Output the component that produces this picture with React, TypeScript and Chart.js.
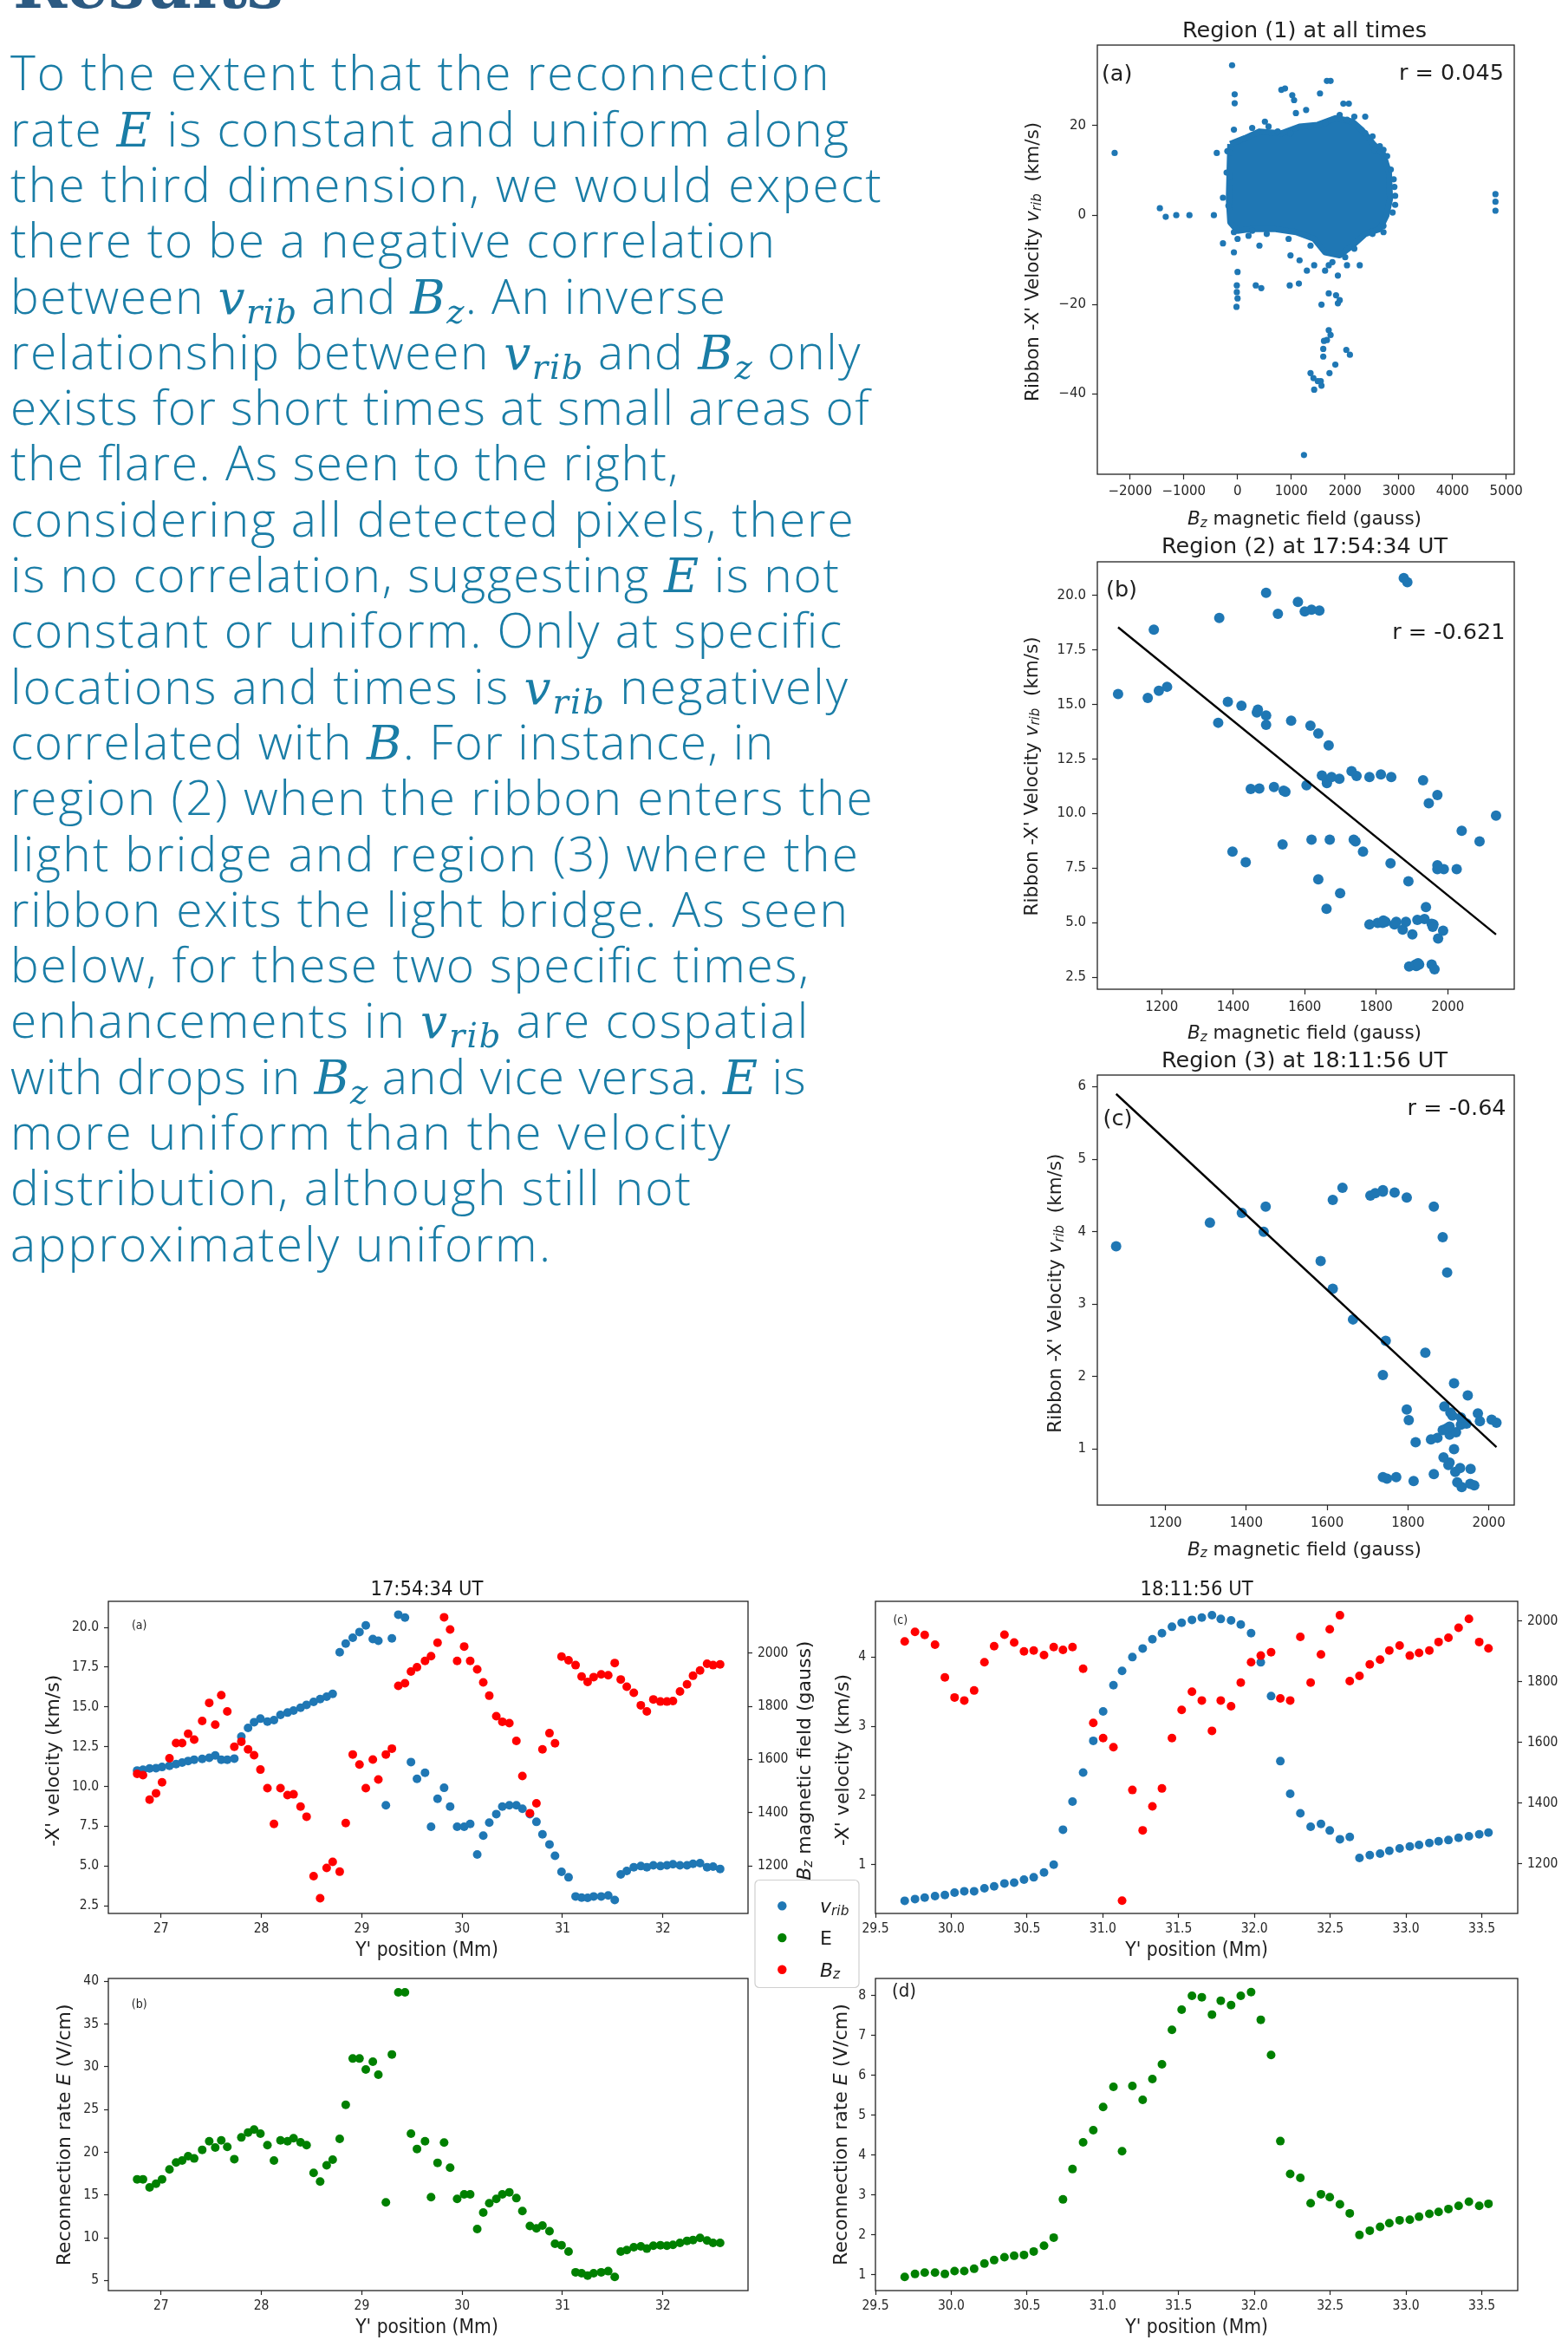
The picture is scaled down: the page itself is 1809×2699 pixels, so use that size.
import React, { useEffect, useRef } from "react";
import { Chart, registerables } from "chart.js";
Chart.register(...registerables);

// ---------------- DATA ----------------
// Region (1), all times: outline of the dense core of the cloud (Bz gauss, v km/s)
const region1CoreBz = [-136, 136, 407, 815, 1154, 1494, 1833, 2139, 2308, 2512, 2716, 2818, 2838, 2770, 2648, 2376, 2139, 1901, 1629, 1426, 1086, 679, 272, 0, -136, -163, -136];
const region1CoreV = [15.9, 17.2, 18.7, 18.3, 19.8, 20.2, 21.7, 20.9, 19.1, 16.1, 13.5, 9.5, 3.6, -0.1, -3.1, -4.2, -6.8, -9.0, -8.3, -5.3, -3.8, -3.1, -3.1, -3.5, -1.6, 3.6, 15.9];
// Region (1): individual points outside / on the edge of the core
const region1Bz = [-102, -54, -54, -2288, -1446, -1337, -1141, -896, -441, -387, -190, -272, -272, 0, -14, -14, 0, -20, -136, 0, -68, 272, 407, 339, 441, 971, 1141, 815, 883, 1018, 1052, 1086, 1276, 1534, 1663, 1731, 1969, 2071, 2173, 2376, 2546, 2716, 2906, 2919, 2933, 2933, 2716, 2512, 2173, 2274, 2037, 1867, 1697, 1629, 1290, 1426, 1154, 985, 1562, 1697, 1833, 1901, 1867, 1697, 1731, 1609, 1663, 1595, 1595, 1711, 1820, 2024, 2091, 1358, 1412, 1494, 1562, 1426, 1548, 1236, 4800, 4800, 4800,
  -68, 272, 509, 577, 747, 985, 1358, 1629, 1901, 2037, 2376, 2512, 2648, 2784, 2852, 2886, 2716, -136, -204, -170, -68, 204, 543, 950, 1358, 1765, 2003];
const region1V = [33.5, 27.0, 25.0, 13.9, 1.55, -0.37, 0, 0, 0, 13.9, 14.3, 3.9, -6.3, -12.7, -15.7, -17.2, -18.6, -20.5, 7.2, -5.3, -8.3, -3.5, -6.8, -15.7, -16.3, -15.7, -15.3, 28.0, 28.3, 26.8, 25.7, 22.8, 23.5, 27.2, 30.0, 30.0, 24.9, 24.9, 22.0, 22.0, 14.6, 14.6, 8.0, 6.3, 4.3, 2.3, -3.8, -4.2, -7.5, -11.2, -11.2, -13.5, -11.2, -12.4, -12.4, -11.2, -10.1, -9.0, -20.0, -17.5, -17.9, -19.0, -19.7, -25.7, -26.8, -28.1, -27.9, -29.9, -31.6, -35.3, -33.4, -30.1, -31.2, -35.3, -36.4, -37.1, -38.1, -39.0, -37.1, -53.6, 4.7, 3.0, 1.0,
  19.1, 19.5, 20.9, 19.8, 18.7, 18.3, 19.8, 20.6, 22.4, 21.3, 18.3, 17.6, 15.4, 13.2, 10.2, 0.6, -2.4, 13.9, 9.5, 2.1, -3.8, -4.6, -4.2, -5.3, -6.8, -10.5, -9.4];

// 17:54:34 UT (region 2): Y' position (Mm), v_rib (km/s), Bz (G), E (V/cm)
const posA = [26.762, 26.82, 26.886, 26.95, 27.01, 27.084, 27.15, 27.21, 27.27, 27.33, 27.41, 27.48, 27.54, 27.60, 27.66, 27.73, 27.80, 27.867, 27.927, 27.99, 28.06, 28.125, 28.19, 28.26, 28.32, 28.39, 28.45, 28.52, 28.585, 28.65, 28.71, 28.78, 28.84, 28.91, 28.977, 29.04, 29.11, 29.165, 29.24, 29.30, 29.364, 29.43, 29.49, 29.55, 29.63, 29.69, 29.755, 29.82, 29.88, 29.95, 30.02, 30.08, 30.15, 30.21, 30.27, 30.34, 30.40, 30.47, 30.54, 30.60, 30.675, 30.74, 30.80, 30.87, 30.925, 30.99, 31.06, 31.13, 31.19, 31.25, 31.31, 31.385, 31.455, 31.52, 31.58, 31.64, 31.71, 31.78, 31.84, 31.905, 31.975, 32.04, 32.10, 32.17, 32.24, 32.30, 32.37, 32.44, 32.50, 32.57];
const vribA = [11.0, 11.05, 11.13, 11.15, 11.22, 11.3, 11.4, 11.5, 11.6, 11.68, 11.73, 11.8, 11.95, 11.68, 11.68, 11.75, 13.13, 13.68, 14.04, 14.26, 14.08, 14.17, 14.5, 14.64, 14.77, 14.95, 15.13, 15.31, 15.49, 15.64, 15.82, 18.44, 18.98, 19.35, 19.71, 20.13, 19.27, 19.16, 8.81, 19.31, 20.8, 20.62, 11.53, 10.48, 10.86, 7.46, 9.22, 9.91, 8.73, 7.46, 7.46, 7.64, 5.72, 6.9, 7.72, 8.26, 8.73, 8.81, 8.81, 8.59, 8.26, 7.77, 6.99, 6.35, 5.64, 4.63, 4.28, 3.08, 3.01, 2.99, 3.08, 3.08, 3.14, 2.86, 4.46, 4.68, 4.92, 4.99, 4.92, 5.04, 4.99, 5.04, 5.1, 5.04, 5.04, 5.13, 5.17, 4.92, 4.95, 4.81];
const bzA = [1546, 1541, 1449, 1473, 1514, 1605, 1662, 1662, 1697, 1675, 1745, 1813, 1731, 1842, 1781, 1648, 1667, 1638, 1616, 1562, 1492, 1358, 1492, 1466, 1469, 1423, 1385, 1161, 1078, 1192, 1215, 1178, 1361, 1619, 1581, 1492, 1600, 1525, 1619, 1641, 1877, 1887, 1931, 1947, 1971, 1989, 2039, 2135, 2089, 1971, 2025, 1971, 1939, 1890, 1840, 1763, 1742, 1737, 1670, 1538, 1398, 1435, 1638, 1699, 1661, 1987, 1973, 1955, 1912, 1892, 1910, 1920, 1917, 1963, 1901, 1874, 1851, 1804, 1781, 1826, 1818, 1818, 1820, 1856, 1883, 1915, 1935, 1960, 1955, 1958];
const eA = [16.84, 16.84, 15.9, 16.33, 16.84, 18.0, 18.8, 19.04, 19.55, 19.28, 20.29, 21.3, 20.56, 21.4, 20.63, 19.2, 21.74, 22.32, 22.66, 22.18, 20.83, 19.04, 21.4, 21.3, 21.64, 21.17, 20.83, 17.59, 16.57, 18.47, 19.14, 21.57, 25.56, 30.97, 30.97, 29.69, 30.6, 29.08, 14.14, 31.45, 38.72, 38.72, 22.18, 20.39, 21.3, 14.75, 18.77, 21.14, 18.2, 14.54, 15.08, 15.08, 11.03, 12.95, 14.04, 14.54, 15.08, 15.32, 14.64, 13.12, 11.37, 11.1, 11.43, 10.76, 9.3, 9.13, 8.39, 5.96, 5.85, 5.58, 5.85, 5.96, 6.09, 5.42, 8.39, 8.56, 8.9, 9.0, 8.73, 9.07, 9.13, 9.07, 9.17, 9.4, 9.64, 9.74, 9.98, 9.67, 9.4, 9.4];

// 18:11:56 UT (region 3)
const posC = [29.693, 29.761, 29.825, 29.893, 29.958, 30.022, 30.086, 30.151, 30.219, 30.283, 30.351, 30.415, 30.48, 30.544, 30.612, 30.676, 30.737, 30.80, 30.87, 30.937, 31.002, 31.07, 31.127, 31.195, 31.263, 31.327, 31.39, 31.456, 31.52, 31.588, 31.653, 31.72, 31.778, 31.846, 31.91, 31.978, 32.042, 32.11, 32.171, 32.236, 32.303, 32.371, 32.439, 32.497, 32.564, 32.629, 32.693, 32.761, 32.829, 32.89, 32.958, 33.025, 33.086, 33.154, 33.215, 33.28, 33.347, 33.415, 33.483, 33.544];
const vribC = [0.477, 0.502, 0.523, 0.544, 0.561, 0.594, 0.615, 0.615, 0.657, 0.686, 0.728, 0.74, 0.782, 0.816, 0.887, 1.0, 1.505, 1.911, 2.33, 2.79, 3.214, 3.595, 3.80, 4.0, 4.125, 4.259, 4.347, 4.439, 4.497, 4.539, 4.572, 4.606, 4.552, 4.531, 4.472, 4.347, 3.925, 3.436, 2.496, 2.023, 1.743, 1.547, 1.589, 1.493, 1.367, 1.401, 1.096, 1.137, 1.158, 1.2, 1.234, 1.263, 1.284, 1.313, 1.338, 1.355, 1.388, 1.409, 1.438, 1.463];
const bzC = [1933, 1964, 1954, 1922, 1814, 1748, 1738, 1771, 1864, 1917, 1955, 1929, 1900, 1903, 1888, 1914, 1905, 1914, 1843, 1664, 1614, 1584, 1078, 1443, 1310, 1389, 1448, 1614, 1707, 1767, 1738, 1638, 1738, 1719, 1797, 1864, 1886, 1897, 1745, 1738, 1948, 1797, 1890, 1973, 2019, 1802, 1819, 1857, 1873, 1903, 1919, 1886, 1895, 1903, 1931, 1945, 1978, 2007, 1931, 1910];
const eC = [0.944, 1.017, 1.053, 1.053, 1.017, 1.089, 1.089, 1.147, 1.278, 1.365, 1.437, 1.474, 1.495, 1.582, 1.727, 1.93, 2.888, 3.65, 4.323, 4.628, 5.208, 5.716, 4.1, 5.737, 5.389, 5.912, 6.281, 7.144, 7.652, 8.0, 7.964, 7.529, 7.877, 7.768, 8.0, 8.094, 7.398, 6.513, 4.352, 3.526, 3.431, 2.793, 3.018, 2.946, 2.764, 2.539, 1.996, 2.104, 2.199, 2.293, 2.365, 2.38, 2.453, 2.525, 2.576, 2.648, 2.728, 2.83, 2.728, 2.779];

// linear fits drawn in the scatter panels (endpoints)
const fitRegion2Bz = [1078, 2135];
const fitRegion2V = [18.55, 4.46];
const fitRegion3Bz = [1078, 2019];
const fitRegion3V = [5.9, 1.03];

// tick values
const ticksR1Bz = [-2000, -1000, 0, 1000, 2000, 3000, 4000, 5000];
const ticksR1V = [-40, -20, 0, 20];
const ticksR2Bz = [1200, 1400, 1600, 1800, 2000];
const ticksR2V = [2.5, 5, 7.5, 10, 12.5, 15, 17.5, 20];
const ticksR3Bz = [1200, 1400, 1600, 1800, 2000];
const ticksR3V = [1, 2, 3, 4, 5, 6];
const ticksPosA = [27, 28, 29, 30, 31, 32];
const ticksVelA = [2.5, 5, 7.5, 10, 12.5, 15, 17.5, 20];
const ticksBzA = [1200, 1400, 1600, 1800, 2000];
const ticksEA = [5, 10, 15, 20, 25, 30, 35, 40];
const ticksPosC = [29.5, 30, 30.5, 31, 31.5, 32, 32.5, 33, 33.5];
const ticksVelC = [1, 2, 3, 4];
const ticksBzC = [1200, 1400, 1600, 1800, 2000];
const ticksEC = [1, 2, 3, 4, 5, 6, 7, 8];

// ---------------- STYLE ----------------
const BLUE = "#1f77b4";
const RED = "#ff0000";
const GREEN = "#008000";
const INK = "#1e1e1e";
const TEAL = "#1a7da6";
const SANS = "'DejaVu Sans', sans-serif";
const COND = "'DejaVu Sans Condensed', 'DejaVu Sans', sans-serif";
const MATH = "'DejaVu Serif', serif";
const BODY = "'Open Sans', 'Lato', sans-serif";

type AxisSpec = { min: number; max: number; ticks: number[]; digits: number };
type PanelSpec = {
  id: string;
  box: [number, number, number, number];
  x: AxisSpec;
  y: AxisSpec;
  y2?: AxisSpec;
  font: { family: string; size: number };
  tick: number;
  xPad: number;
  yPad: number;
  datasets: any[];
};

const pts = (xs: number[], ys: number[]) => xs.map((x, i) => ({ x, y: ys[i] }));
const dots = (xs: number[], ys: number[], color: string, r: number, extra: any = {}) => ({
  type: "scatter",
  data: pts(xs, ys),
  backgroundColor: color,
  borderColor: color,
  borderWidth: 0,
  pointRadius: r,
  pointHoverRadius: r,
  ...extra,
});
const fitLine = (xs: number[], ys: number[]) => ({
  type: "line",
  data: pts(xs, ys),
  borderColor: "#000",
  borderWidth: 2.4,
  pointRadius: 0,
  fill: false,
  tension: 0,
  order: 0,
});

const PANELS: PanelSpec[] = [
  {
    id: "r1",
    box: [1266, 52, 1747, 547],
    x: { min: -2610, max: 5150, ticks: ticksR1Bz, digits: 0 },
    y: { min: -57.9, max: 38, ticks: ticksR1V, digits: 0 },
    font: { family: SANS, size: 15 },
    tick: 6, xPad: 5, yPad: 7,
    datasets: [
      dots(region1Bz, region1V, BLUE, 3.6, { order: 1 }),
      {
        type: "line",
        data: pts(region1CoreBz, region1CoreV),
        borderColor: BLUE,
        backgroundColor: BLUE,
        borderWidth: 7,
        borderJoinStyle: "round",
        pointRadius: 0,
        tension: 0,
        showLine: true,
        fill: "shape",
        order: 2,
      },
    ],
  },
  {
    id: "r2",
    box: [1266, 648, 1747, 1141],
    x: { min: 1020, max: 2186, ticks: ticksR2Bz, digits: 0 },
    y: { min: 1.95, max: 21.55, ticks: ticksR2V, digits: 1 },
    font: { family: SANS, size: 15 },
    tick: 6, xPad: 6, yPad: 7,
    datasets: [fitLine(fitRegion2Bz, fitRegion2V), dots(bzA, vribA, BLUE, 6, { order: 1 })],
  },
  {
    id: "r3",
    box: [1266, 1240, 1747, 1736],
    x: { min: 1031.5, max: 2063, ticks: ticksR3Bz, digits: 0 },
    y: { min: 0.23, max: 6.16, ticks: ticksR3V, digits: 0 },
    font: { family: SANS, size: 15 },
    tick: 6, xPad: 6, yPad: 7,
    datasets: [fitLine(fitRegion3Bz, fitRegion3V), dots(bzC, vribC, BLUE, 6, { order: 1 })],
  },
  {
    id: "ba",
    box: [125, 1847, 863, 2207],
    x: { min: 26.475, max: 32.848, ticks: ticksPosA, digits: 0 },
    y: { min: 2.01, max: 21.64, ticks: ticksVelA, digits: 1 },
    y2: { min: 1021, max: 2195, ticks: ticksBzA, digits: 0 },
    font: { family: COND, size: 15.5 },
    tick: 5, xPad: 4, yPad: 6,
    datasets: [
      dots(posA, bzA, RED, 5, { yAxisID: "y2", order: 0 }),
      dots(posA, vribA, BLUE, 5, { yAxisID: "y", order: 1 }),
    ],
  },
  {
    id: "bc",
    box: [1010, 1847, 1751, 2207],
    x: { min: 29.5, max: 33.737, ticks: ticksPosC, digits: 1 },
    y: { min: 0.294, max: 4.807, ticks: ticksVelC, digits: 0 },
    y2: { min: 1036, max: 2065, ticks: ticksBzC, digits: 0 },
    font: { family: COND, size: 15.5 },
    tick: 5, xPad: 4, yPad: 6,
    datasets: [
      dots(posC, bzC, RED, 5, { yAxisID: "y2", order: 0 }),
      dots(posC, vribC, BLUE, 5, { yAxisID: "y", order: 1 }),
    ],
  },
  {
    id: "bb",
    box: [125, 2282, 863, 2642],
    x: { min: 26.475, max: 32.848, ticks: ticksPosA, digits: 0 },
    y: { min: 3.82, max: 40.34, ticks: ticksEA, digits: 0 },
    font: { family: COND, size: 15.5 },
    tick: 5, xPad: 4, yPad: 6,
    datasets: [dots(posA, eA, GREEN, 5)],
  },
  {
    id: "bd",
    box: [1010, 2282, 1751, 2642],
    x: { min: 29.5, max: 33.737, ticks: ticksPosC, digits: 1 },
    y: { min: 0.6, max: 8.435, ticks: ticksEC, digits: 0 },
    font: { family: COND, size: 15.5 },
    tick: 5, xPad: 4, yPad: 6,
    datasets: [dots(posC, eC, GREEN, 5)],
  },
];

const fmtTick = (a: AxisSpec) => (v: number) => {
  const s = Math.abs(v).toFixed(a.digits);
  return v < 0 ? "\u2212" + s : s;
};

const framePlugin = {
  id: "frame",
  afterDatasetsDraw(chart: any) {
    const { ctx, chartArea } = chart;
    ctx.save();
    ctx.strokeStyle = "#222";
    ctx.lineWidth = 1.3;
    ctx.strokeRect(chartArea.left, chartArea.top, chartArea.right - chartArea.left, chartArea.bottom - chartArea.top);
    ctx.restore();
  },
};

const PAD = 30;
const LW = 110;
const RW2 = 100;
const BH = 50;

function makeScale(a: AxisSpec, pos: string, size: number, p: PanelSpec, pad: number) {
  const f = fmtTick(a);
  return {
    type: "linear",
    position: pos,
    min: a.min,
    max: a.max,
    bounds: "data",
    afterBuildTicks: (s: any) => {
      s.ticks = a.ticks.map((v) => ({ value: v }));
    },
    afterFit: (s: any) => {
      if (pos === "bottom") s.height = size;
      else s.width = size;
    },
    ticks: {
      callback: (v: any) => f(Number(v)),
      font: p.font,
      color: "#262626",
      padding: pad,
      autoSkip: false,
      maxRotation: 0,
      minRotation: 0,
    },
    grid: { display: true, drawOnChartArea: false, drawTicks: true, tickLength: p.tick, tickWidth: 1.2, tickColor: "#262626" },
    border: { display: false },
  };
}

function Panel({ spec }: { spec: PanelSpec }) {
  const ref = useRef<HTMLCanvasElement>(null);
  const [L, T, R, B] = spec.box;
  const RW = spec.y2 ? RW2 : 0;
  const cw = R - L + LW + RW + 2 * PAD;
  const ch = B - T + BH + 2 * PAD;
  useEffect(() => {
    if (!ref.current) return;
    const scales: any = {
      x: makeScale(spec.x, "bottom", BH, spec, spec.xPad),
      y: makeScale(spec.y, "left", LW, spec, spec.yPad),
    };
    if (spec.y2) scales.y2 = makeScale(spec.y2, "right", RW, spec, spec.yPad);
    const chart = new Chart(ref.current, {
      type: "scatter",
      data: { datasets: spec.datasets },
      options: {
        responsive: false,
        animation: false,
        devicePixelRatio: 1,
        layout: { padding: PAD },
        plugins: { legend: { display: false }, tooltip: { enabled: false }, title: { display: false } },
        scales,
      } as any,
      plugins: [framePlugin],
    } as any);
    return () => chart.destroy();
  }, []);
  return (
    <canvas
      ref={ref}
      width={cw}
      height={ch}
      style={{ position: "absolute", left: L - LW - PAD, top: T - PAD, width: cw, height: ch }}
    />
  );
}

// ---------------- TEXT ----------------
type Seg = string | { m: string; s?: string };
const M = (m: string, s?: string) => ({ m, s });
const bodyLines: Seg[][] = [
  ["To the extent that the reconnection"],
  ["rate ", M("E"), " is constant and uniform along"],
  ["the third dimension, we would expect"],
  ["there to be a negative correlation"],
  ["between ", M("v", "rib"), " and ", M("B", "z"), ". An inverse"],
  ["relationship between ", M("v", "rib"), " and ", M("B", "z"), " only"],
  ["exists for short times at small areas of"],
  ["the flare. As seen to the right,"],
  ["considering all detected pixels, there"],
  ["is no correlation, suggesting ", M("E"), " is not"],
  ["constant or uniform. Only at specific"],
  ["locations and times is ", M("v", "rib"), " negatively"],
  ["correlated with ", M("B"), ". For instance, in"],
  ["region (2) when the ribbon enters the"],
  ["light bridge and region (3) where the"],
  ["ribbon exits the light bridge. As seen"],
  ["below, for these two specific times,"],
  ["enhancements in ", M("v", "rib"), " are cospatial"],
  ["with drops in ", M("B", "z"), " and vice versa. ", M("E"), " is"],
  ["more uniform than the velocity"],
  ["distribution, although still not"],
  ["approximately uniform."],
];
const bodyRightEdges = [956.5, 979, 1016.7, 894, 837, 992.6, 1002.7, 782.3, 984.6, 967.8, 971.2, 977.9, 892.2, 1006.7, 989.9, 977.9, 933, 932.3, 929.7, 842.6, 797, 635];

function segs(list: Seg[], size: number, subDy: number, mathFamily: string, weight: number) {
  const out: any[] = [];
  let pending = 0;
  list.forEach((s, i) => {
    if (typeof s === "string") {
      out.push(
        <tspan key={i} dy={pending || undefined}>
          {s}
        </tspan>
      );
      pending = 0;
    } else {
      out.push(
        <tspan key={i + "m"} fontFamily={mathFamily} fontStyle="italic" fontWeight={weight} dy={pending || undefined}>
          {s.m}
        </tspan>
      );
      pending = 0;
      if (s.s) {
        out.push(
          <tspan key={i + "s"} fontFamily={mathFamily} fontStyle="italic" fontWeight={weight} fontSize={size * 0.7} dy={subDy}>
            {s.s}
          </tspan>
        );
        pending = -subDy;
      }
    }
  });
  return out;
}

function Lbl(props: { x: number; y: number; size: number; rot?: boolean; family?: string; anchor?: string; children: any }) {
  const { x, y, size, rot, family = SANS, anchor = "middle", children } = props;
  return (
    <text
      x={x}
      y={y}
      fontSize={size}
      fontFamily={family}
      textAnchor={anchor as any}
      dominantBaseline="central"
      fill={INK}
      transform={rot ? `rotate(-90 ${x} ${y})` : undefined}
      style={{ whiteSpace: "pre" }}
    >
      {children}
    </text>
  );
}

const labelSegs = (list: Seg[], size: number) => segs(list, size, size * 0.26, SANS, 400);

const ylabScatter: Seg[] = ["Ribbon -X' Velocity ", M("v", "rib"), "  (km/s)"];
const xlabScatter: Seg[] = [M("B", "z"), " magnetic field (gauss)"];
const bzLabel: Seg[] = [M("B", "z"), " magnetic field (gauss)"];
const eLabel: Seg[] = ["Reconnection rate ", M("E"), " (V/cm)"];

const BODY_SIZE = 55;

export default function App() {
  return (
    <div style={{ position: "absolute", left: 0, top: 0, width: 1809, height: 2699, overflow: "hidden", background: "#fff" }}>
      {PANELS.map((p) => (
        <Panel key={p.id} spec={p} />
      ))}
      <svg width={1809} height={2699} style={{ position: "absolute", left: 0, top: 0 }}>
        {/* heading */}
        <text x={15} y={9} fontFamily="'DejaVu Serif', serif" fontWeight={700} fontSize={74} fill="#2c5a82" textLength={312} lengthAdjust="spacingAndGlyphs">
          Results
        </text>
        {/* body */}
        {bodyLines.map((ln, i) => (
          <text
            key={i}
            x={12}
            y={104.3 + i * 64.3}
            fontFamily={BODY}
            fontWeight={300}
            fontSize={BODY_SIZE}
            fill={TEAL}
            textLength={bodyRightEdges[i] - 12}
            lengthAdjust="spacing"
            style={{ whiteSpace: "pre" }}
          >
            {segs(ln, BODY_SIZE, 11, MATH, 400)}
          </text>
        ))}

        {/* scatter panels */}
        <Lbl x={1505} y={33.7} size={25.5}>Region (1) at all times</Lbl>
        <Lbl x={1288.7} y={84} size={25.5}>(a)</Lbl>
        <Lbl x={1735} y={83.4} size={25.5} anchor="end">r = 0.045</Lbl>
        <Lbl x={1190} y={302} size={21.5} rot>{labelSegs(ylabScatter, 21.5)}</Lbl>
        <Lbl x={1505} y={597} size={21.5}>{labelSegs(xlabScatter, 21.5)}</Lbl>

        <Lbl x={1505} y={628.7} size={25.5}>Region (2) at 17:54:34 UT</Lbl>
        <Lbl x={1294} y={679.2} size={25.5}>(b)</Lbl>
        <Lbl x={1736.4} y={728.2} size={25.5} anchor="end">r = -0.621</Lbl>
        <Lbl x={1188.7} y={895.4} size={21.5} rot>{labelSegs(ylabScatter, 21.5)}</Lbl>
        <Lbl x={1505} y={1190} size={21.5}>{labelSegs(xlabScatter, 21.5)}</Lbl>

        <Lbl x={1505} y={1222.2} size={25.5}>Region (3) at 18:11:56 UT</Lbl>
        <Lbl x={1289.5} y={1288.8} size={25.5}>(c)</Lbl>
        <Lbl x={1737.6} y={1276.5} size={25.5} anchor="end">r = -0.64</Lbl>
        <Lbl x={1216} y={1491.6} size={21.5} rot>{labelSegs(ylabScatter, 21.5)}</Lbl>
        <Lbl x={1505} y={1785.5} size={21.5}>{labelSegs(xlabScatter, 21.5)}</Lbl>

        {/* bottom panels */}
        <Lbl x={492.5} y={1831.7} size={23.5} family={COND}>17:54:34 UT</Lbl>
        <Lbl x={160.7} y={1874} size={14} family={COND}>(a)</Lbl>
        <Lbl x={60.3} y={2030.8} size={22} rot>-X' velocity (km/s)</Lbl>
        <Lbl x={926.7} y={2030.7} size={22} rot>{labelSegs(bzLabel, 22)}</Lbl>
        <Lbl x={492.5} y={2248} size={22.6} family={COND}>Y' position (Mm)</Lbl>

        <Lbl x={1380.6} y={1831.7} size={23.5} family={COND}>18:11:56 UT</Lbl>
        <Lbl x={1038.8} y={1868.3} size={14} family={COND}>(c)</Lbl>
        <Lbl x={971.8} y={2030} size={22} rot>-X' velocity (km/s)</Lbl>
        <Lbl x={1818} y={2030} size={22} rot>{labelSegs(bzLabel, 22)}</Lbl>
        <Lbl x={1380.6} y={2248} size={22.6} family={COND}>Y' position (Mm)</Lbl>

        <Lbl x={160.7} y={2311} size={14} family={COND}>(b)</Lbl>
        <Lbl x={73.5} y={2462.3} size={22} rot>{labelSegs(eLabel, 22)}</Lbl>
        <Lbl x={492.5} y={2682.7} size={22.6} family={COND}>Y' position (Mm)</Lbl>

        <Lbl x={1043} y={2295} size={22} family={COND}>(d)</Lbl>
        <Lbl x={968.9} y={2462} size={22} rot>{labelSegs(eLabel, 22)}</Lbl>
        <Lbl x={1380.6} y={2682.7} size={22.6} family={COND}>Y' position (Mm)</Lbl>

        {/* legend */}
        <rect x={871} y={2168.5} width={120} height={124} rx={5} fill="#fff" fillOpacity={0.85} stroke="#cfcfcf" strokeWidth={1.2} />
        <circle cx={902.3} cy={2198.3} r={5.2} fill={BLUE} />
        <circle cx={902.3} cy={2235} r={5.2} fill={GREEN} />
        <circle cx={902.3} cy={2271.7} r={5.2} fill={RED} />
        <Lbl x={946} y={2198.3} size={22} anchor="start">{labelSegs([M("v", "rib")], 22)}</Lbl>
        <Lbl x={946} y={2235} size={22} anchor="start">E</Lbl>
        <Lbl x={946} y={2271.7} size={22} anchor="start">{labelSegs([M("B", "z")], 22)}</Lbl>
      </svg>
    </div>
  );
}
